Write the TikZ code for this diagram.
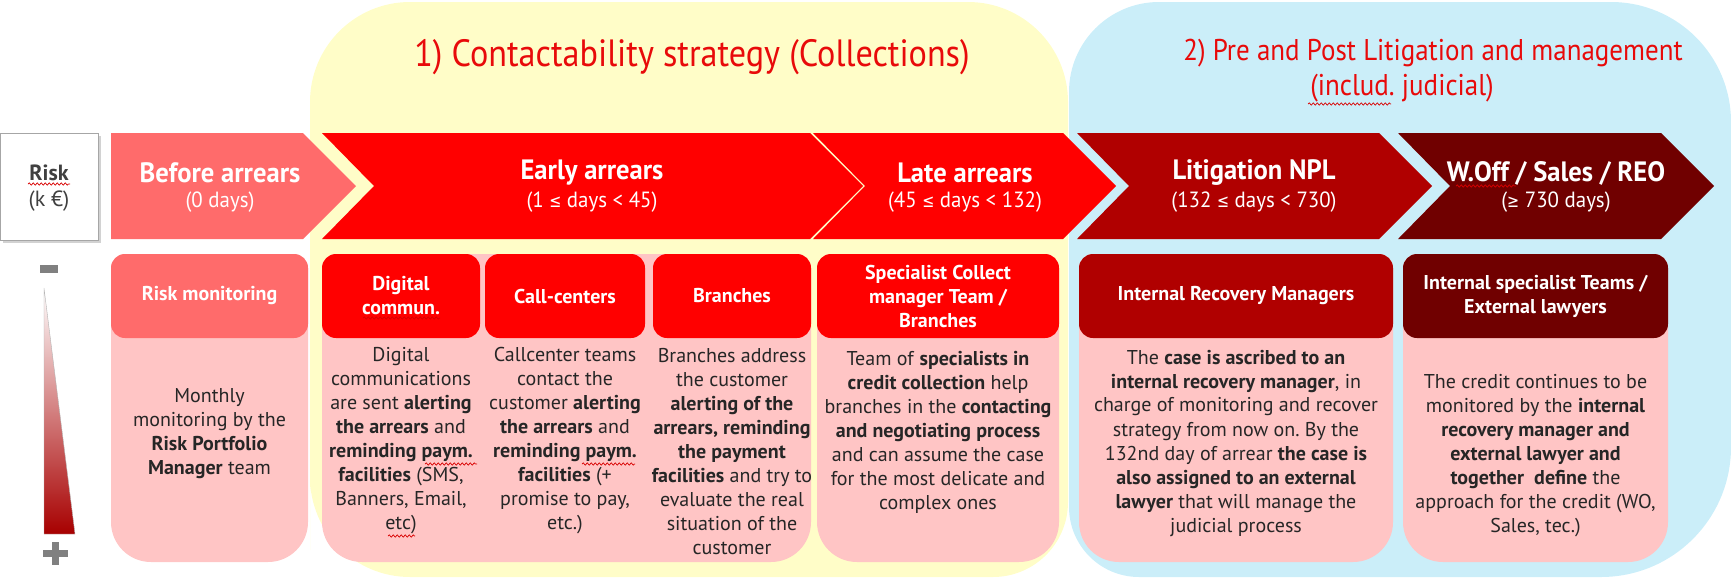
\documentclass[tikz,border=0pt]{standalone}
\usepackage{fontspec}
\setmainfont{PT Sans}
\newfontfamily\condfont[FakeStretch=0.95]{PT Sans}
\newfontfamily\ttlfont[FakeStretch=0.9]{PT Sans}
\newfontfamily\symf[FakeStretch=0.8]{DejaVu Sans}
\newcommand\myle{{\symf\fontsize{18}{20}\selectfont ≤}}
\newcommand\myge{{\symf\fontsize{18}{20}\selectfont ≥}}
\usetikzlibrary{decorations.pathmorphing}
\definecolor{yel}{HTML}{FFFDC8}
\definecolor{blu}{HTML}{CBEEF9}
\definecolor{lightred}{HTML}{FF6B6B}
\definecolor{midred}{HTML}{FF0000}
\definecolor{litred}{HTML}{B00000}
\definecolor{darkred}{HTML}{700000}
\definecolor{pinkb}{HTML}{FFC5C5}
\definecolor{txt}{HTML}{262626}
\definecolor{titred}{HTML}{E80A0A}
\definecolor{riskgray}{HTML}{404040}
\newcommand\bodybox[2]{\fill[pinkb] (#1,400) [rounded corners=14] -- (#1,254) -- (#2,254) -- (#2,400) [rounded corners=40] -- (#2,562) -- (#1,562) -- cycle;}
\newcommand\mychev[3]{\fill[#3] (#1,133) -- (#2,133) -- ({#2+53},186) -- (#2,239) -- (#1,239) -- ({#1+52},186) -- cycle;}
\tikzset{
 hdr/.style={rounded corners=14, inner sep=2, text=white, align=center, minimum height=84, font=\fontsize{20}{24}\selectfont\bfseries},
 bodytxt/.style={align=center, text=txt, inner sep=0, font=\fontsize{20}{24}\selectfont},
 chevt/.style={text=white, inner sep=0, font=\condfont\fontsize{28}{30}\selectfont\bfseries},
 chevs/.style={text=white, inner sep=0, font=\condfont\fontsize{22}{24}\selectfont},
 ttl/.style={text=titred, align=center, inner sep=0, font=\ttlfont\fontsize{38}{40}\selectfont},
 ttlb/.style={text=titred, align=center, inner sep=0, font=\ttlfont\fontsize{30}{34}\selectfont},
 sq/.style={draw=red!85!black, decorate, decoration={snake, amplitude=1.1pt, segment length=4pt}, line width=0.7pt}
}
\begin{document}
\frenchspacing
\begin{tikzpicture}[x=1pt,y=-1pt]
\useasboundingbox (0,0) rectangle (1731,579);
% background regions
\fill[yel] (310,300) [rounded corners=100] -- (310,2) -- (700,2) -- (1068,2) -- (1068,300) [rounded corners=75] -- (1068,577) -- (700,577) [rounded corners=100] -- (310,577) -- (310,450) -- cycle;
\fill[blu] (1069,300) [rounded corners=90] -- (1069,2) -- (1400,2) [rounded corners=120] -- (1731,2) -- (1731,300) [rounded corners=130] -- (1731,577) -- (1400,577) [rounded corners=70] -- (1069,577) -- cycle;
% titles
\node[ttl] (t1) at (692,57) {1) Contactability strategy (Collections)};
\node[ttlb] (t2) at (1433,53) {2) Pre and Post Litigation and management};
\node[ttlb] (t2b) at (1402,88) {(includ. judicial)};
% risk box
\fill[gray!35] (3,136) rectangle (101,243);
\node[draw=gray!70, fill=white, minimum width=98, minimum height=107, inner sep=0, text=riskgray] (risk) at (49,186.5) {};
\node[text=riskgray, inner sep=0, font=\fontsize{22}{24}\selectfont\bfseries] (risk1) at (49,173) {Risk};
\node[text=riskgray, inner sep=0, font=\fontsize{22}{24}\selectfont] (risk2) at (49,201) {(k €)};
% gradient scale
\fill[gray] (40,265) rectangle (58,273);
\shade[top color=white, middle color=red!30!white, bottom color=litred!95!black, draw=gray!60] (44,288) -- (75,534) -- (44,534) -- cycle;
\fill[gray] (43,550) rectangle (68,557);
\fill[gray] (52,542) rectangle (59,565);
% chevrons
\fill[lightred] (111,133) -- (303,133) -- (356,186) -- (303,239) -- (111,239) -- cycle;
\mychev{322}{810}{midred}
\mychev{813}{1063}{midred}
\mychev{1077}{1379}{litred}
\mychev{1398}{1661}{darkred}
\node[chevt] (c1) at (220,173) {Before arrears};
\node[chevs] (c1s) at (220,202) {(0 days)};
\node[chevt] (c2) at (592,173) {Early arrears};
\node[chevs] (c2s) at (592,202) {(1 \myle{} days < 45)};
\node[chevt] (c3) at (965,173) {Late arrears};
\node[chevs] (c3s) at (965,202) {(45 \myle{} days < 132)};
\node[chevt] (c4) at (1254,173) {Litigation NPL};
\node[chevs] (c4s) at (1254,202) {(132 \myle{} days < 730)};
\node[chevt] (c5) at (1556,173) {W.Off / Sales / REO};
\node[chevs] (c5s) at (1556,202) {(\myge{} 730 days)};
% body boxes
\bodybox{111}{308}
\bodybox{322}{811}
\bodybox{817}{1059}
\bodybox{1079}{1393}
\bodybox{1403}{1668}
% headers
\node[hdr, fill=lightred, minimum width=197] (h1) at (209.5,296) {Risk monitoring};
\node[hdr, fill=midred, minimum width=158] (h2) at (401,296) {Digital\\commun.};
\node[hdr, fill=midred, minimum width=160] (h3) at (565,296) {Call-centers};
\node[hdr, fill=midred, minimum width=158] (h4) at (732,296) {Branches};
\node[hdr, fill=midred, minimum width=242] (h5) at (938,296) {Specialist Collect\\manager Team /\\Branches};
\node[hdr, fill=litred, minimum width=314] (h6) at (1236,296) {Internal Recovery Managers};
\node[hdr, fill=darkred, minimum width=265] (h7) at (1535.5,296) {Internal specialist Teams /\\External lawyers};
% body texts
\node[bodytxt] (b1) at (209.5,434) {Monthly\\monitoring by the\\\textbf{Risk Portfolio}\\\textbf{Manager} team};
\node[bodytxt] (b2) at (401,441) {Digital\\communications\\are sent \textbf{alerting}\\\textbf{the arrears} and\\\textbf{reminding paym.}\\\textbf{facilities} (SMS,\\Banners, Email,\\etc)};
\node[bodytxt] (b3) at (565,441) {Callcenter teams\\contact the\\customer \textbf{alerting}\\\textbf{the arrears} and\\\textbf{reminding paym.}\\\textbf{facilities} (+\\promise to pay,\\etc.)};
\node[bodytxt] (b4) at (732,452) {Branches address\\the customer\\\textbf{alerting of the}\\\textbf{arrears, reminding}\\\textbf{the payment}\\\textbf{facilities} and try to\\evaluate the real\\situation of the\\customer};
\node[bodytxt] (b5) at (938,432) {Team of \textbf{specialists in}\\\textbf{credit collection} help\\branches in the \textbf{contacting}\\\textbf{and negotiating process}\\and can assume the case\\for the most delicate and\\complex ones};
\node[bodytxt] (b6) at (1236,443) {The \textbf{case is ascribed to an}\\\textbf{internal recovery manager}, in\\charge of monitoring and recover\\strategy from now on. By the\\132nd day of arrear \textbf{the case is}\\\textbf{also assigned to an external}\\\textbf{lawyer} that will manage the\\judicial process};
\node[bodytxt] (b7) at (1535.5,456) {The credit continues to be\\monitored by the \textbf{internal}\\\textbf{recovery manager and}\\\textbf{external lawyer and}\\\textbf{together\ \ define} the\\approach for the credit (WO,\\Sales, tec.)};
% spell-check squiggles
\draw[sq] (28,184) -- (70,184);
\draw[sq] (363,318) -- (440,318);
\draw[sq] (425,464) -- (477,464);
\draw[sq] (582,464) -- (635,464);
\draw[sq] (388,536) -- (415,536);
\draw[sq] (1308,104) -- (1391,104);
\draw[sq] (1456,186) -- (1516,186);
\end{tikzpicture}
\end{document}
